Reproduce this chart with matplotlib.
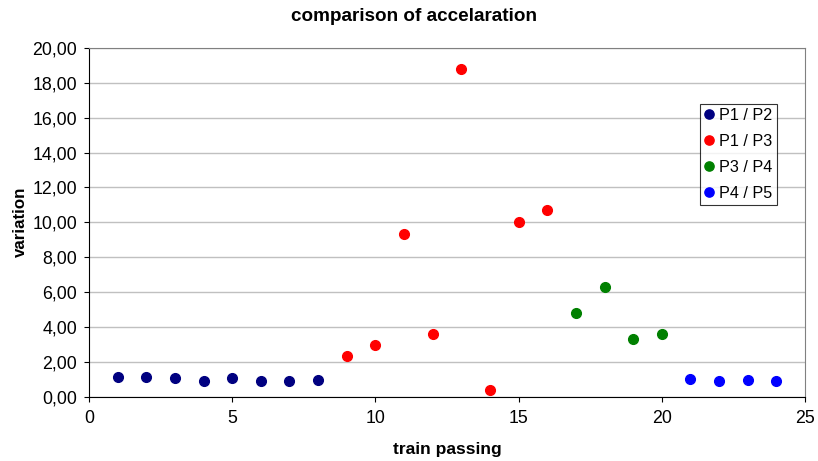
import matplotlib
matplotlib.use("Agg")
import matplotlib.pyplot as plt
from matplotlib.ticker import FuncFormatter, MultipleLocator

plt.rcParams['font.family'] = ['Liberation Sans', 'DejaVu Sans']

x_p12 = [1, 2, 3, 4, 5, 6, 7, 8]
y_p12 = [1.14, 1.14, 1.08, 0.89, 1.08, 0.89, 0.89, 0.95]
x_p13 = [9, 10, 11, 12, 13, 14, 15, 16]
y_p13 = [2.31, 2.95, 9.35, 3.62, 18.78, 0.40, 10.04, 10.73]
x_p34 = [17, 18, 19, 20]
y_p34 = [4.77, 6.30, 3.28, 3.60]
x_p45 = [21, 22, 23, 24]
y_p45 = [1.03, 0.88, 0.95, 0.88]

series = [
    ("P1 / P2", x_p12, y_p12, "#000080"),
    ("P1 / P3", x_p13, y_p13, "#FF0000"),
    ("P3 / P4", x_p34, y_p34, "#008000"),
    ("P4 / P5", x_p45, y_p45, "#0000FF"),
]

fig = plt.figure(figsize=(8.18, 4.61), dpi=100)
ax = fig.add_axes([0.1088, 0.1397, 0.9841 - 0.1088, 0.8959 - 0.1397])

for name, xs, ys, c in series:
    ax.plot(xs, ys, linestyle='none', marker='o', markersize=7, color=c, label=name, zorder=3)

ax.set_xlim(0, 25)
ax.set_ylim(0, 20)
ax.xaxis.set_major_locator(MultipleLocator(5))
ax.yaxis.set_major_locator(MultipleLocator(2))
ax.yaxis.set_major_formatter(FuncFormatter(lambda v, p: f"{v:.2f}".replace('.', ',')))
ax.grid(axis='y', color='#c0c0c0', linewidth=1)
ax.set_axisbelow(True)
for s in ['top', 'right']:
    ax.spines[s].set_color('#808080')
for s in ['left', 'bottom']:
    ax.spines[s].set_color('black')
ax.tick_params(axis='both', labelsize=12.8, length=3.6, direction='out', colors='black')
ax.tick_params(axis='x', pad=6.3)
ax.tick_params(axis='y', pad=5)

ax.set_xlabel("train passing", fontsize=12.5, fontweight='bold', va='center')
ax.xaxis.set_label_coords(0.5, -0.153)
ax.set_ylabel("variation", fontsize=12.2, fontweight='bold', va='center')
ax.yaxis.set_label_coords(-0.0964, 0.5)
fig.text(0.5067, 0.965, "comparison of accelaration", fontsize=13.6, fontweight='bold',
         ha='center', va='center')

leg = ax.legend(loc='upper left', bbox_to_anchor=(0.8534, 0.8394), fontsize=11.6,
                frameon=True, fancybox=False, edgecolor='black', handlelength=0.6,
                handletextpad=0.35, borderpad=0.25, labelspacing=0.68, markerscale=0.95,
                borderaxespad=0)
leg.get_frame().set_linewidth(0.8)

fig.savefig("out.png", dpi=100)
